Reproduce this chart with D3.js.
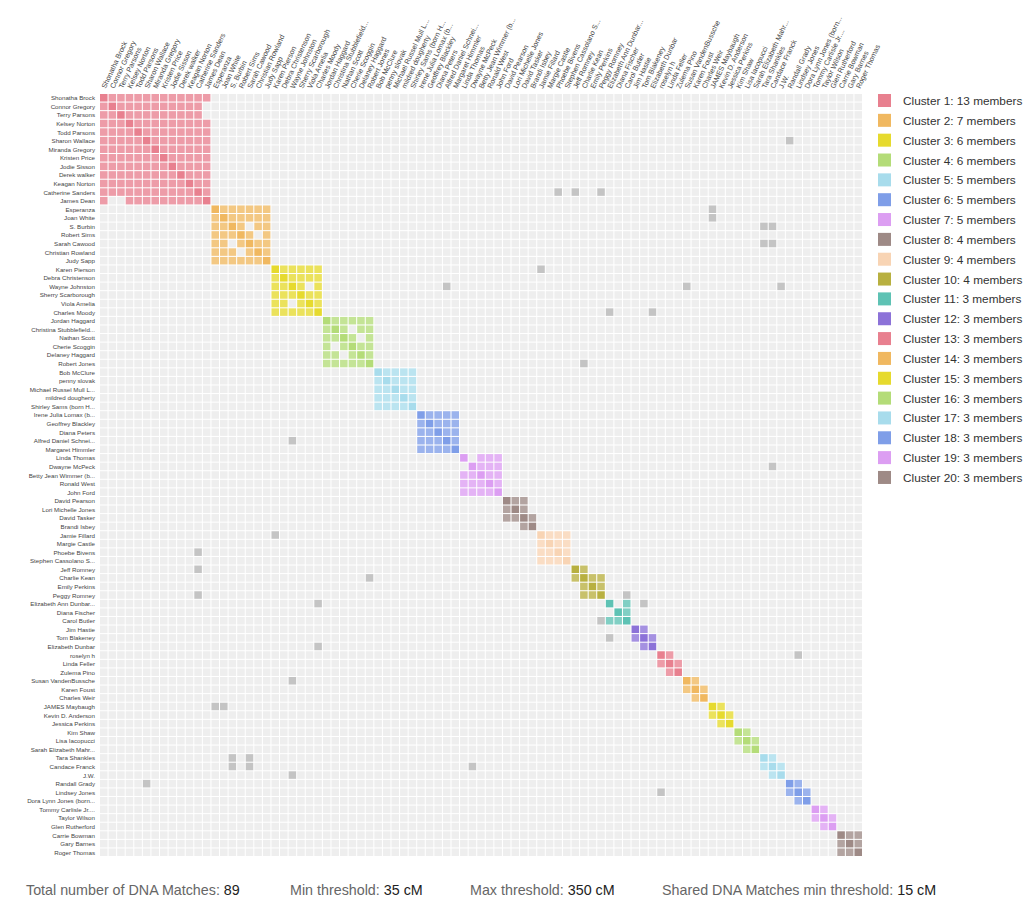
<!DOCTYPE html>
<html><head><meta charset="utf-8">
<script src="https://cdn.jsdelivr.net/npm/d3@7"></script>
<style>
body{margin:0;background:#fff;font-family:"Liberation Sans",Arial,sans-serif;}
</style></head><body>
<svg id="chart" width="1024" height="902"></svg>
<script>
const names = ["Shonatha Brock","Connor Gregory","Terry Parsons","Kelsey Norton","Todd Parsons","Sharon Wallace","Miranda Gregory","Kristen Price","Jodie Sisson","Derek walker","Keagan Norton","Catherine Sanders","James Dean",
"Esperanza","Joan White","S. Burbin","Robert Sims","Sarah Cawood","Christian Rowland","Judy Sapp",
"Karen Pierson","Debra Christenson","Wayne Johnston","Sherry Scarborough","Viola Amelia","Charles Moody",
"Jordan Haggard","Christina Stubblefield...","Nathan Scott","Cherie Scoggin","Delaney Haggard","Robert Jones",
"Bob McClure","penny slovak","Michael Russel Mull L...","mildred dougherty","Shirley Sams (born H...",
"Irene Julia Lomax (b...","Geoffrey Blackley","Diana Peters","Alfred Daniel Schnei...","Margaret Himmler",
"Linda Thomas","Dwayne McPeck","Betty Jean Wimmer (b...","Ronald West","John Ford",
"David Pearson","Lori Michelle Jones","David Tasker","Brandi Isbey",
"Jamie Fillard","Margie Castle","Phoebe Bivens","Stephen Cassolano S...",
"Jeff Romney","Charlie Kean","Emily Perkins","Peggy Romney",
"Elizabeth Ann Dunbar...","Diana Fischer","Carol Butler",
"Jim Hastie","Tom Blakeney","Elizabeth Dunbar",
"roselyn h","Linda Feller","Zulema Pino",
"Susan VandenBussche","Karen Foust","Charles Weir",
"JAMES Maybaugh","Kevin D. Anderson","Jessica Perkins",
"Kim Shaw","Lisa Iacopucci","Sarah Elizabeth Mahr...",
"Tara Shankles","Candace Franck","J.W.",
"Randall Grady","Lindsey Jones","Dora Lynn Jones (born...",
"Tommy Carlisle Jr....","Taylor Wilson","Glen Rutherford",
"Carrie Bowman","Gary Barnes","Roger Thomas"];
const clusterSizes = [13,7,6,6,5,5,5,4,4,4,3,3,3,3,3,3,3,3,3,3];
const clusterColors = ["#e8808f","#f0b860","#e6da2e","#b4dc78","#a8dcec","#7f9ee8","#dc9ef2","#9e8a86","#f8d4b4","#b8b040","#5ec2b4","#8c72d8"];
// pairs inside a cluster with no shared match
const withinGaps = [[1,12],[2,12],[15,17],[16,18],[22,24],[27,29],[28,30],[42,43],[47,50],[48,50],[55,57],[55,58],[59,60],[62,64],[65,67],[68,70],[71,73],[74,76],[77,79],[80,82],[83,85]];
// shared matches between members of different clusters
const crossLinks = [[5,80],[11,53],[11,55],[11,58],[13,71],[14,71],[15,77],[15,78],[17,77],[17,78],[20,51],[22,40],[22,68],[22,79],[25,59],[25,64],[31,56],[43,78],[58,61],[59,63],[65,81]];
const stats = [["Total number of DNA Matches: ","89"],["Min threshold: ","35 cM"],["Max threshold: ","350 cM"],["Shared DNA Matches min threshold: ","15 cM"]];

const svg = d3.select("#chart");
const N = names.length;
const x0 = 100, y0 = 94, size = 762;
const x = d3.scaleBand().domain(d3.range(N)).range([x0, x0+size]).paddingInner(0.12);
const y = d3.scaleBand().domain(d3.range(N)).range([y0, y0+size]).paddingInner(0.12);

const clusterOf = [];
clusterSizes.forEach((s,ci)=>{for(let k=0;k<s;k++) clusterOf.push(ci);});
const gapSet = new Set();
withinGaps.forEach(([a,b])=>{gapSet.add(a+"-"+b);gapSet.add(b+"-"+a);});
const linkSet = new Set();
crossLinks.forEach(([a,b])=>{linkSet.add(a+"-"+b);linkSet.add(b+"-"+a);});

const cells = [];
for(let i=0;i<N;i++) for(let j=0;j<N;j++){
  let fill = "#eeeeee", op = 1;
  if(clusterOf[i]===clusterOf[j] && !gapSet.has(i+"-"+j)){
    fill = clusterColors[clusterOf[i] % clusterColors.length];
    op = i===j ? 1 : 0.78;
  } else if(linkSet.has(i+"-"+j)){
    fill = "#c4c4c4";
  }
  cells.push({i,j,fill,op});
}
svg.append("g").selectAll("rect").data(cells).join("rect")
  .attr("x",d=>x(d.j)).attr("y",d=>y(d.i))
  .attr("width",x.bandwidth()).attr("height",y.bandwidth())
  .attr("fill",d=>d.fill).attr("fill-opacity",d=>d.op);

svg.append("g").selectAll("text").data(names).join("text")
  .attr("x",x0-5).attr("y",(d,i)=>y(i)+y.bandwidth()/2)
  .attr("text-anchor","end").attr("dominant-baseline","central")
  .attr("font-size",6.2).attr("fill","#444").text(d=>d);

svg.append("g").selectAll("text").data(names).join("text")
  .attr("transform",(d,i)=>`translate(${x(i)+x.bandwidth()/2+2},${y0-5}) rotate(-65)`)
  .attr("text-anchor","start").attr("font-size",7.2).attr("fill","#444").text(d=>d);

const lg = svg.append("g").selectAll("g").data(clusterSizes).join("g")
  .attr("transform",(d,i)=>`translate(878,${94+i*19.84})`);
lg.append("rect").attr("width",13).attr("height",13).attr("fill",(d,i)=>clusterColors[i%clusterColors.length]);
lg.append("text").attr("x",25).attr("y",7).attr("dominant-baseline","central")
  .attr("font-size",11.8).attr("fill","#333").text((d,i)=>`Cluster ${i+1}: ${d} members`);

const sx = [26,290,470,662];
stats.forEach((s,k)=>{
  const t = svg.append("text").attr("x",sx[k]).attr("y",895).attr("font-size",14.3).attr("fill","#666");
  t.append("tspan").text(s[0]);
  t.append("tspan").attr("fill","#222").text(s[1]);
});
</script>
</body></html>
